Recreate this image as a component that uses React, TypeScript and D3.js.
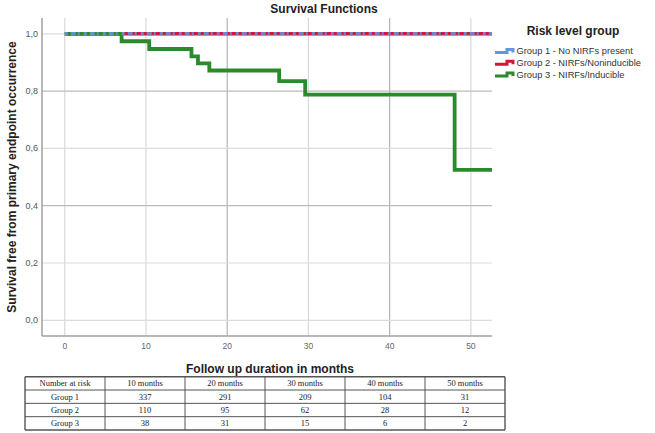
import React from "react";
import * as d3 from "d3";

const xTicks = [0, 10, 20, 30, 40, 50];
const yTicks = [0, 0.2, 0.4, 0.6, 0.8, 1.0];
const majorX = [20, 40];
const majorY = [0.4, 0.8];

const group1Times = [0, 52.6];
const group1Surv = [1, 1];
const group2Times = [0, 52.6];
const group2Surv = [1, 1];
const group3Times = [0, 7, 10.4, 15.6, 16.4, 17.8, 26.4, 29.6, 48.0, 52.6];
const group3Surv = [1, 0.974, 0.947, 0.921, 0.897, 0.872, 0.835, 0.788, 0.525, 0.525];

const legendLabels = [
  "Group 1 - No NIRFs present",
  "Group 2 - NIRFs/Noninducible",
  "Group 3 - NIRFs/Inducible",
];
const colors = ["#6496dc", "#d4143c", "#2b8a2b"];

const tableHeader = ["Number at risk", "10 months", "20 months", "30 months", "40 months", "50 months"];
const tableGroups = ["Group 1", "Group 2", "Group 3"];
const risk1 = [337, 291, 209, 104, 31];
const risk2 = [110, 95, 62, 28, 12];
const risk3 = [38, 31, 15, 6, 2];

export default function App() {
  const left = 42, right = 492, top = 18, bottom = 336;
  const x = d3.scaleLinear().domain([-2.8, 52.6]).range([left, right]);
  const y = d3.scaleLinear().domain([-0.0548, 1.0552]).range([bottom, top]);

  const mk = (t: number[], s: number[]) =>
    d3.line<number>().x((_, i) => x(t[i])).y((d) => y(d)).curve(d3.curveStepAfter)(s) || "";

  const p1 = mk(group1Times, group1Surv);
  const p2 = mk(group2Times, group2Surv);
  const p3 = mk(group3Times, group3Surv);

  const fontSans = "'Liberation Sans', Arial, sans-serif";
  const fontSerif = "'Liberation Serif', 'Times New Roman', serif";

  // table
  const colX = d3.scaleLinear().domain([0, 6]).range([25, 505]);
  const rowY = d3.scaleLinear().domain([0, 4]).range([376.7, 430]);
  const rows = [tableHeader, ...tableGroups.map((g, i) => [g, ...[risk1, risk2, risk3][i].map(String)])];

  return (
    <svg width={655} height={433} style={{ position: "absolute", left: 0, top: 0, background: "#fff" }}>
      <rect width={655} height={433} fill="#fff" />
      {/* grid */}
      {xTicks.map((t) => (
        <line key={"gx" + t} x1={x(t)} x2={x(t)} y1={top} y2={bottom}
          stroke={majorX.includes(t) ? "#b4b4b4" : "#d9d9d9"} strokeWidth={1.2} />
      ))}
      {yTicks.map((t) => (
        <line key={"gy" + t} x1={left} x2={right} y1={y(t)} y2={y(t)}
          stroke={majorY.includes(t) ? "#bcbcbc" : "#dcdcdc"} strokeWidth={1.2} />
      ))}
      {/* axes */}
      <line x1={left} x2={left} y1={top} y2={bottom} stroke="#a0a0a0" strokeWidth={1.5} />
      <line x1={left} x2={right} y1={bottom} y2={bottom} stroke="#a0a0a0" strokeWidth={1.5} />
      {yTicks.map((t) => (
        <text key={"ty" + t} x={38} y={y(t) + 3} textAnchor="end" fontSize={9} fill="#555" fontFamily={fontSans}>
          {t.toFixed(1).replace(".", ",")}
        </text>
      ))}
      {xTicks.map((t) => (
        <text key={"tx" + t} x={x(t)} y={349} textAnchor="middle" fontSize={8.5} fill="#666" fontFamily={fontSans}>
          {t}
        </text>
      ))}
      {/* curves */}
      <path d={p2} fill="none" stroke={colors[1]} strokeWidth={3.5} />
      <path d={p3} fill="none" stroke={colors[2]} strokeWidth={3.8} />
      <path d={p1} fill="none" stroke={colors[0]} strokeWidth={3.5} strokeDasharray="3,3,5,2,2,4" opacity={0.85} />
      {/* titles */}
      <text x={324} y={13} textAnchor="middle" fontSize={12} fontWeight="bold" fill="#222" fontFamily={fontSans}>
        Survival Functions
      </text>
      <text transform={`translate(15.5,177) rotate(-90)`} textAnchor="middle" fontSize={12}
        fontWeight="bold" fill="#222" fontFamily={fontSans}>
        Survival free from primary endpoint occurrence
      </text>
      {/* legend */}
      <text x={573} y={35} textAnchor="middle" fontSize={12} fontWeight="bold" fill="#222" fontFamily={fontSans}>
        Risk level group
      </text>
      {legendLabels.map((l, i) => {
        const cy = 51 + i * 11.7;
        return (
          <g key={l}>
            <path d={`M495,${cy + 1.5} H507 V${cy - 1.5} H513 V${cy + 1.5}`} fill="none" stroke={colors[i]} strokeWidth={3} />
            <text x={516.5} y={cy + 3.3} fontSize={9.3} fill="#333" fontFamily={fontSans}>{l}</text>
          </g>
        );
      })}
      {/* table */}
      <text x={270} y={373} textAnchor="middle" fontSize={12} fontWeight="bold" fill="#222" fontFamily={fontSans}>
        Follow up duration in months
      </text>
      {rows.map((r, ri) => (
        <g key={"r" + ri}>
          {r.map((c, ci) => (
            <text key={ci} x={(colX(ci) + colX(ci + 1)) / 2} y={(rowY(ri) + rowY(ri + 1)) / 2 + 3}
              textAnchor="middle" fontSize={8.5} fill="#222" fontFamily={fontSerif}>{c}</text>
          ))}
        </g>
      ))}
      {d3.range(5).map((i) => (
        <line key={"hl" + i} x1={colX(0)} x2={colX(6)} y1={rowY(i)} y2={rowY(i)} stroke="#555" strokeWidth={i === 0 || i === 4 ? 1.4 : 1} />
      ))}
      {d3.range(7).map((i) => (
        <line key={"vl" + i} x1={colX(i)} x2={colX(i)} y1={rowY(0)} y2={rowY(4)} stroke="#555" strokeWidth={i === 0 || i === 6 ? 1.4 : 1} />
      ))}
    </svg>
  );
}
